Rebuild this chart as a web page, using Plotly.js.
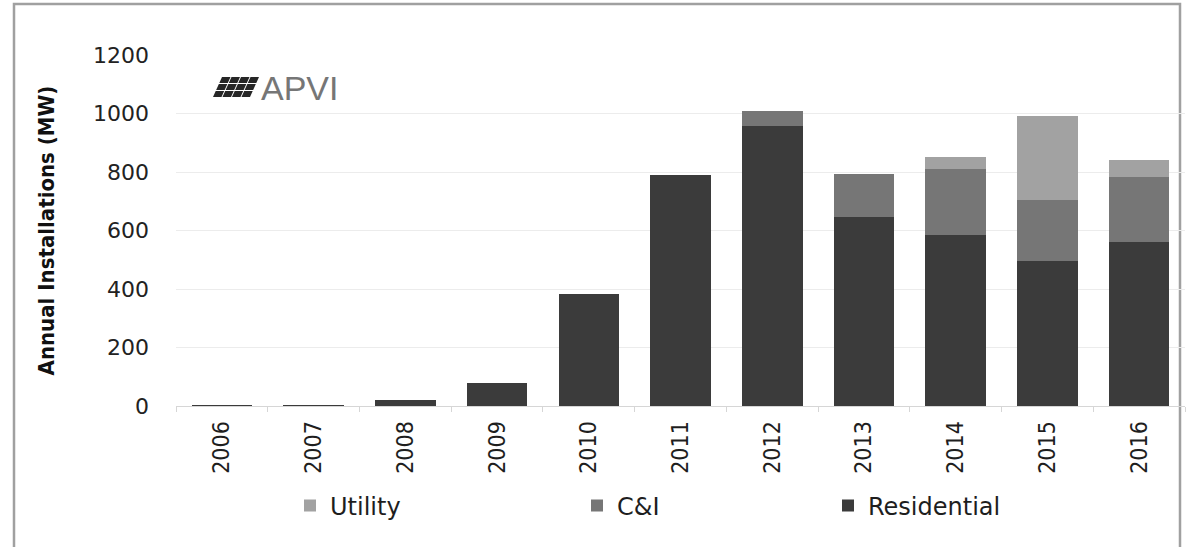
<!DOCTYPE html>
<html>
<head>
<meta charset="utf-8">
<script src="https://cdn.plot.ly/plotly-3.0.1.min.js"></script>
<style>html,body{margin:0;padding:0;background:#fff;}#chart{width:1188px;height:547px;}</style>
</head>
<body>
<div id="chart"></div>
<script>
// ---- data ----
const years = ['2006','2007','2008','2009','2010','2011','2012','2013','2014','2015','2016'];
const residential = [5, 5, 22, 80, 383, 790, 957, 646, 585, 497, 560];
const cAndI       = [0, 0, 0, 0, 0, 0, 51, 147, 225, 207, 222];
const utility     = [0, 0, 0, 0, 0, 0, 0, 0, 41, 287, 59];
const yTicks = [0, 200, 400, 600, 800, 1000, 1200];

// ---- pixel helpers for decoration ----
const W = 1188, H = 547, L = 176, R = 3, T = 55, B = 141;
const PW = W - L - R, PH = H - T - B;
const px = x => (x - L) / PW;
const py = y => (H - B - y) / PH;

const tickFontY = {family: 'DejaVu Sans, Verdana, sans-serif', size: 22, color: '#222'};
const legFont = {family: 'DejaVu Sans, Verdana, sans-serif', size: 24, color: '#1e1e1e'};
const narrow = 'DejaVu Sans Condensed, Liberation Sans Narrow, sans-serif';

const traces = [
  {type: 'bar', name: 'Residential', x: years, y: residential,
   marker: {color: '#3b3b3b'}, legend: 'legend3'},
  {type: 'bar', name: 'C&I', x: years, y: cAndI,
   marker: {color: '#767676'}, legend: 'legend2'},
  {type: 'bar', name: 'Utility', x: years, y: utility,
   marker: {color: '#a2a2a2'}, legend: 'legend'}
];

// logo icon: 3 rows x 4 slanted blocks
let iconPath = '';
const rows = 3, cols = 4;
for (let r = 0; r < rows; r++) {
  for (let c = 0; c < cols; c++) {
    const y0 = 77 + r * 7, y1 = y0 + 6;
    const slant = (y1 - 77) * 0.45, slant0 = (y0 - 77) * 0.45;
    const xb = 222 + c * 9.5;
    const p = [
      [xb - slant0, y0], [xb + 8.5 - slant0, y0],
      [xb + 8.5 - slant, y1], [xb - slant, y1]
    ];
    iconPath += 'M' + p.map(q => px(q[0]).toFixed(5) + ',' + py(q[1]).toFixed(5)).join('L') + 'Z ';
  }
}

const layout = {
  width: W, height: H,
  margin: {l: L, r: R, t: T, b: B},
  paper_bgcolor: '#ffffff', plot_bgcolor: '#ffffff',
  barmode: 'stack', bargap: 0.34,
  showlegend: true,
  xaxis: {
    type: 'category', tickangle: -90,
    tickfont: {family: narrow, size: 23, color: '#1e1e1e'},
    showgrid: false, showline: true, linecolor: '#d6d6d6', linewidth: 1,
    ticks: 'outside', tickson: 'boundaries', ticklen: 5, tickcolor: '#d6d6d6',
    ticklabelstandoff: 5, automargin: false
  },
  yaxis: {
    range: [0, 1200], tickvals: yTicks, ticktext: yTicks.map(String),
    tickfont: tickFontY, showgrid: true, gridcolor: '#ececec', gridwidth: 1,
    zeroline: false, showline: false, ticks: '', ticklabelstandoff: 26,
    automargin: false,
    title: {text: 'Annual Installations (MW)', standoff: 32,
            font: {family: narrow, size: 22, color: '#111', weight: 'bold'}}
  },
  legend:  {x: px(290), y: py(506), xanchor: 'left', yanchor: 'middle', orientation: 'h',
            font: legFont, bgcolor: 'rgba(0,0,0,0)'},
  legend2: {x: px(577), y: py(506), xanchor: 'left', yanchor: 'middle', orientation: 'h',
            font: legFont, bgcolor: 'rgba(0,0,0,0)'},
  legend3: {x: px(828), y: py(506), xanchor: 'left', yanchor: 'middle', orientation: 'h',
            font: legFont, bgcolor: 'rgba(0,0,0,0)'},
  shapes: [
    {type: 'rect', xref: 'paper', yref: 'paper', layer: 'below',
     x0: px(14), x1: px(1180), y0: py(560), y1: py(4),
     line: {color: '#a0a0a0', width: 2.5}, fillcolor: 'rgba(0,0,0,0)'},
    {type: 'path', xref: 'paper', yref: 'paper', path: iconPath,
     fillcolor: '#262626', line: {width: 0}}
  ],
  annotations: [
    {text: 'APVI', xref: 'paper', yref: 'paper', x: px(259), y: py(88),
     xanchor: 'left', yanchor: 'middle', showarrow: false,
     font: {family: 'Liberation Sans, Arial, sans-serif', size: 34, color: '#767676'}}
  ]
};

Plotly.newPlot('chart', traces, layout, {displayModeBar: false, staticPlot: true});
</script>
</body>
</html>
